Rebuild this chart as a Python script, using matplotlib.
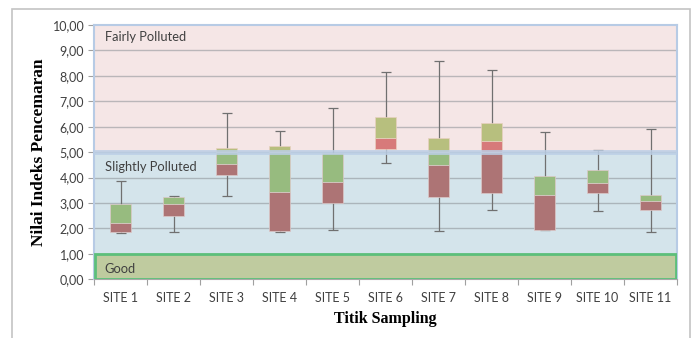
import matplotlib.pyplot as plt
from matplotlib.patches import Rectangle
from matplotlib.ticker import FuncFormatter, FixedLocator

# pollution index per sampling site: min, Q1, median, Q3, max
sites = ["SITE 1", "SITE 2", "SITE 3", "SITE 4", "SITE 5", "SITE 6",
         "SITE 7", "SITE 8", "SITE 9", "SITE 10", "SITE 11"]
ip_min = [1.84, 1.86, 3.28, 1.87, 1.95, 4.59, 1.90, 2.72, 1.92, 2.69, 1.86]
ip_q1 = [1.87, 2.50, 4.11, 1.89, 3.00, 5.14, 3.25, 3.38, 1.95, 3.39, 2.72]
ip_med = [2.22, 2.97, 4.53, 3.42, 3.84, 5.55, 4.50, 5.45, 3.33, 3.79, 3.09]
ip_q3 = [2.98, 3.23, 5.18, 5.25, 4.96, 6.37, 5.54, 6.13, 4.07, 4.30, 3.30]
ip_max = [3.88, 3.26, 6.52, 5.83, 6.73, 8.17, 8.60, 8.22, 5.79, 5.07, 5.90]

# status classes (index ranges)
classes = ["Good", "Slightly Polluted", "Fairly Polluted"]
class_lo = [0.0, 1.0, 5.0]
class_hi = [1.0, 5.0, 10.0]

SANS = "Lato"
SERIF = "Liberation Serif"
TXT = "#404040"

fig = plt.figure(figsize=(6.95, 3.38), dpi=100)
fig.patches.append(Rectangle((12 / 695, -0.1), 678 / 695, 1.1 - 9 / 338,
                             transform=fig.transFigure, fill=False,
                             edgecolor="#c4c4c4", lw=1.2))
ax = fig.add_axes([94 / 695, 58.7 / 338, 583 / 695, 254.3 / 338])

# background bands
band_face = ["#bfcb9f", "#d4e4eb", "#f5e6e6"]
for lo, hi, fc in zip(class_lo, class_hi, band_face):
    ax.axhspan(lo, hi, facecolor=fc, edgecolor="none", zorder=0)
ax.axhspan(class_lo[0], class_hi[0], xmin=0.002, xmax=0.998, facecolor="none",
           edgecolor="#5cbf7a", lw=2, zorder=5)

for v in range(1, 10):
    ax.axhline(v, color="#8a8f94", lw=1, alpha=0.55, zorder=1)
ax.axhline(class_lo[2], color="#bccfe6", lw=3.5, alpha=0.85, zorder=4)

x = list(range(len(sites)))
w = 0.39
split = class_lo[2]

# whiskers
lower = [m - a for m, a in zip(ip_med, ip_min)]
upper = [b - m for m, b in zip(ip_med, ip_max)]
ax.errorbar(x, ip_med, yerr=[lower, upper], fmt="none", ecolor="#707070",
            elinewidth=0.9, capsize=3.5, capthick=0.9, zorder=2)


def draw_segment(xi, lo, hi, col_below, col_above):
    # colour changes where the box crosses into the upper class
    if lo < split:
        top = min(hi, split)
        ax.bar(xi, top - lo, bottom=lo, width=w, color=col_below,
               edgecolor="#dcc8c8", lw=0.5, zorder=3)
    if hi > split:
        bot = max(lo, split)
        ax.bar(xi, hi - bot, bottom=bot, width=w, color=col_above,
               edgecolor="#e8d0c0", lw=0.5, zorder=3)


for i in x:
    draw_segment(i, ip_q1[i], ip_med[i], "#ad7475", "#d77a7a")
    draw_segment(i, ip_med[i], ip_q3[i], "#97bb7f", "#b7bf7e")

# class labels
label_y = [0.42, 4.40, 9.53]
for name, ly in zip(classes, label_y):
    ax.text(-0.3, ly, name, fontsize=9.3, family=SANS, color=TXT,
            va="center", ha="left", zorder=6)

ax.set_xlim(-0.5, len(sites) - 0.5)
ax.set_ylim(0, 10)
ax.yaxis.set_major_locator(FixedLocator(range(0, 11)))
ax.yaxis.set_major_formatter(FuncFormatter(lambda v, p: f"{v:.2f}".replace(".", ",")))
ax.set_xticks([i - 0.5 for i in range(len(sites) + 1)])
ax.set_xticklabels([])
ax.set_xticks(x, minor=True)
ax.set_xticklabels(sites, minor=True)
ax.tick_params(axis="x", which="major", length=4, color="#a0a0a0")
ax.tick_params(axis="x", which="minor", length=0, pad=9, labelsize=9,
               labelcolor=TXT)
ax.tick_params(axis="y", length=4, color="#a0a0a0", labelsize=9,
               labelcolor=TXT, pad=3)
for lab in ax.get_xticklabels(minor=True) + ax.get_yticklabels():
    lab.set_family(SANS)

for side in ["left", "top", "right"]:
    ax.spines[side].set_color("#b7cbe5")
    ax.spines[side].set_linewidth(1.5)
ax.spines["bottom"].set_color("#a8a8a8")

ax.set_ylabel("Nilai Indeks Pencemaran", family=SERIF, fontweight="bold",
              fontsize=12.5, color="black", labelpad=4)
ax.set_xlabel("Titik Sampling", family=SERIF, fontweight="bold",
              fontsize=11.5, color="black", labelpad=5)

fig.savefig("out.png", dpi=100)
